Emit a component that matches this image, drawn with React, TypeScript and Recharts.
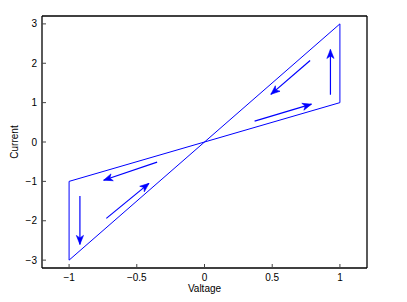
import React from 'react';
import { ComposedChart, Line, XAxis, YAxis } from 'recharts';

// Hysteresis loop vertices (voltage, current)
const loopX = [-1, 1, 1, -1, -1];
const loopY = [-3, 3, 1, -1, -3];

// Direction arrows: start and tip
const arrowStartX = [0.78, 0.93, 0.37, -0.35, -0.92, -0.725];
const arrowStartY = [2.07, 1.2, 0.53, -0.51, -1.37, -1.94];
const arrowEndX = [0.49, 0.93, 0.79, -0.745, -0.92, -0.41];
const arrowEndY = [1.21, 2.35, 0.96, -0.97, -2.6, -1.05];

const xTicks = [-1, -0.5, 0, 0.5, 1];
const yTicks = [-3, -2, -1, 0, 1, 2, 3];
const xDomain = [-1.2, 1.2];
const yDomain = [-3.2, 3.2];

const BLUE = '#0000ff';
const FONT = '"Liberation Sans", Arial, Helvetica, sans-serif';

const loopData = loopX.map((x, i) => ({ x, y: loopY[i] }));
const arrows = arrowStartX.map((sx, i) => [
  { x: sx, y: arrowStartY[i] },
  { x: arrowEndX[i], y: arrowEndY[i] },
]);

const fmt = (v: number) => String(v).replace('-', '\u2212');

const ArrowHead = (props: any) => {
  const { cx, cy, index, points } = props;
  if (index !== 1 || cx == null || cy == null) return <g key={`d-${index}`} />;
  let ang = 0;
  if (points && points[0]) {
    ang = Math.atan2(cy - points[0].y, cx - points[0].x);
  }
  const deg = (ang * 180) / Math.PI;
  return (
    <g key={`d-${index}`} transform={`translate(${cx},${cy}) rotate(${deg})`}>
      <polygon points="0,0 -9,-3.6 -6.5,0 -9,3.6" fill={BLUE} stroke={BLUE} strokeWidth={0.6} />
    </g>
  );
};

const tickStyle = { fontSize: 10, fill: '#000', fontFamily: FONT };

export default function App() {
  return (
    <div style={{ width: 399, height: 294 }}>
      <ComposedChart width={399} height={294} margin={{ top: 7, right: 39, bottom: 0, left: 0 }}>
        <XAxis
          dataKey="x"
          type="number"
          domain={xDomain}
          ticks={xTicks}
          allowDataOverflow
          height={34}
          tickSize={-4}
          tickMargin={10}
          tickFormatter={fmt}
          tick={tickStyle}
          axisLine={{ stroke: '#000', strokeWidth: 1.3 }}
          tickLine={{ stroke: '#444' }}
          label={{
            content: (p: any) => {
              const vb = p.viewBox;
              return (
                <text x={vb.x + vb.width / 2} y={vb.y + 23.5} textAnchor="middle" fontSize={10} fontFamily={FONT} fill="#000">
                  Valtage
                </text>
              );
            },
          }}
        />
        <XAxis
          xAxisId="top"
          orientation="top"
          dataKey="x"
          type="number"
          domain={xDomain}
          ticks={xTicks}
          allowDataOverflow
          height={1}
          tickSize={-4}
          tick={false}
          axisLine={{ stroke: '#000', strokeWidth: 1.3 }}
          tickLine={{ stroke: '#444' }}
        />
        <YAxis
          type="number"
          domain={yDomain}
          ticks={yTicks}
          allowDataOverflow
          width={34}
          tickSize={-4}
          tickMargin={9}
          tickFormatter={fmt}
          tick={tickStyle}
          axisLine={{ stroke: '#000', strokeWidth: 1.3 }}
          tickLine={{ stroke: '#444' }}
          label={{
            content: (p: any) => {
              const vb = p.viewBox;
              const cx = 10;
              const cy = vb.y + vb.height / 2;
              return (
                <text x={cx} y={cy} transform={`rotate(-90, ${cx}, ${cy})`} textAnchor="middle" fontSize={10} fontFamily={FONT} fill="#000">
                  Current
                </text>
              );
            },
          }}
        />
        <YAxis
          yAxisId="right"
          orientation="right"
          type="number"
          domain={yDomain}
          ticks={yTicks}
          allowDataOverflow
          width={1}
          tickSize={-4}
          tick={false}
          axisLine={{ stroke: '#000', strokeWidth: 1.3 }}
          tickLine={{ stroke: '#444' }}
        />
        <Line
          data={loopData}
          dataKey="y"
          type="linear"
          stroke={BLUE}
          strokeWidth={1}
          dot={false}
          isAnimationActive={false}
        />
        {arrows.map((a, i) => (
          <Line
            key={`arrow-${i}`}
            data={a}
            dataKey="y"
            type="linear"
            stroke={BLUE}
            strokeWidth={1.2}
            dot={ArrowHead}
            activeDot={false}
            isAnimationActive={false}
          />
        ))}
      </ComposedChart>
    </div>
  );
}
